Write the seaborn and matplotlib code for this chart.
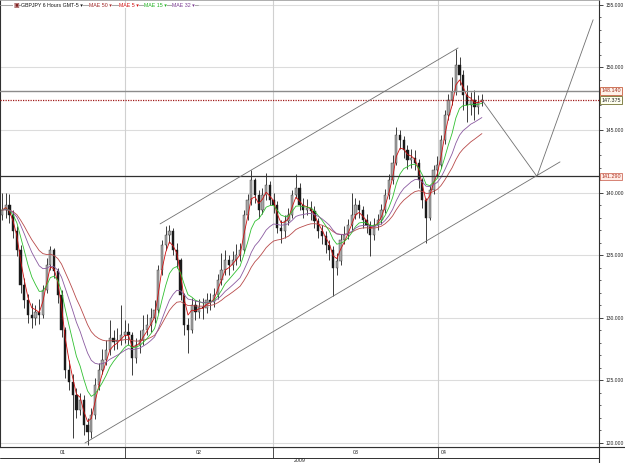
import matplotlib
matplotlib.use('Agg')

import numpy as np
import pandas as pd
import seaborn as sns
import matplotlib.pyplot as plt
from matplotlib.ticker import MultipleLocator, FormatStrFormatter
from matplotlib.transforms import blended_transform_factory

# GBPJPY, Jan - Apr 2009 (one candle here stands for two 6h bars)
first_open = 138.2
closes = [138.6, 139.0, 138.2, 136.9, 135.4, 132.6, 131.4, 130.2, 130.0, 130.5,
          130.2, 132.2, 134.2, 135.4, 133.7, 131.8, 129.0, 125.8, 124.9, 123.8,
          122.6, 123.4, 121.4, 120.9, 122.2, 124.6, 125.8, 126.6, 127.4, 128.4,
          128.1, 128.2, 128.6, 128.9, 128.6, 126.8, 127.8, 128.2, 129.0, 129.4,
          130.0, 130.6, 133.8, 135.8, 136.6, 136.9, 135.4, 134.6, 131.8, 129.4,
          129.0, 131.0, 130.5, 130.9, 130.8, 131.4, 131.3, 131.8, 133.0, 133.8,
          134.6, 134.2, 134.6, 135.0, 135.4, 138.2, 139.4, 141.0, 139.8, 138.6,
          139.8, 140.6, 139.4, 139.0, 137.2, 136.9, 137.7, 138.2, 139.8, 140.4,
          139.0, 138.6, 138.8, 138.5, 137.7, 136.9, 136.5, 135.8, 135.4, 134.0,
          134.5, 136.2, 136.6, 137.4, 138.2, 139.0, 138.6, 137.8, 137.4, 136.6,
          137.4, 137.8, 138.6, 139.8, 141.0, 142.4, 144.6, 144.2, 143.4, 142.6,
          142.8, 142.4, 141.0, 139.4, 138.0, 140.2, 141.8, 142.2, 144.2, 146.2,
          147.4, 148.0, 150.2, 149.4, 147.8, 147.0, 147.4, 146.8, 147.2, 147.4]
highs = [140.0, 140.0, 139.9, 138.6, 137.3, 135.8, 133.2, 131.9, 131.2, 131.0,
         131.5, 132.6, 134.8, 135.7, 135.6, 134.0, 132.2, 129.3, 126.6, 125.5,
         124.4, 124.0, 123.8, 122.0, 122.8, 125.2, 126.4, 127.5, 128.2, 129.8,
         129.0, 129.2, 131.0, 129.8, 129.6, 128.9, 128.4, 129.0, 130.2, 130.3,
         130.8, 131.4, 134.2, 136.2, 137.3, 137.4, 137.2, 136.0, 134.8, 132.0,
         130.0, 131.6, 131.4, 131.5, 131.6, 132.0, 132.0, 132.4, 133.5, 135.2,
         135.4, 135.0, 135.3, 135.9, 136.0, 138.6, 139.9, 141.8, 141.2, 140.2,
         140.4, 141.6, 140.9, 140.0, 139.3, 137.8, 138.2, 138.8, 140.2, 141.5,
         140.8, 139.6, 139.5, 139.3, 138.9, 138.0, 137.4, 136.9, 136.2, 135.7,
         135.2, 136.7, 137.3, 137.9, 140.0, 139.6, 139.4, 138.9, 138.3, 137.7,
         138.0, 138.3, 139.1, 140.3, 141.5, 143.0, 145.2, 145.0, 144.5, 143.8,
         143.5, 143.4, 142.7, 141.2, 139.6, 140.6, 142.2, 142.9, 144.6, 146.6,
         147.9, 149.2, 151.5, 150.8, 149.8, 148.6, 148.0, 148.2, 147.8, 147.9]
lows = [137.8, 138.0, 137.6, 136.4, 134.9, 132.0, 130.8, 129.6, 129.2, 129.4,
        129.5, 130.0, 132.0, 133.8, 133.2, 131.2, 128.5, 125.2, 124.2, 120.4,
        122.0, 122.2, 120.6, 119.8, 120.4, 121.9, 124.2, 125.5, 126.2, 127.0,
        127.4, 127.5, 127.8, 128.0, 127.8, 125.4, 126.4, 127.2, 127.8, 128.6,
        128.9, 129.6, 130.4, 133.4, 135.4, 136.0, 135.0, 134.0, 131.4, 128.6,
        127.2, 128.8, 129.8, 130.0, 129.9, 130.4, 130.6, 130.9, 131.5, 132.6,
        133.4, 133.4, 133.8, 134.2, 134.5, 135.2, 137.8, 139.0, 139.2, 138.0,
        138.3, 139.4, 139.0, 138.4, 136.8, 136.0, 136.4, 137.4, 138.0, 139.6,
        138.6, 138.0, 138.2, 137.8, 137.2, 136.4, 135.9, 135.2, 134.6, 131.7,
        133.4, 134.2, 135.9, 136.3, 137.0, 137.9, 138.0, 137.2, 136.8, 134.9,
        136.2, 137.0, 137.5, 138.4, 139.5, 140.7, 142.2, 143.5, 142.8, 141.9,
        142.0, 141.8, 140.4, 138.8, 136.0, 137.8, 139.9, 141.3, 142.0, 143.9,
        145.8, 147.0, 147.8, 148.6, 146.6, 145.6, 146.2, 145.8, 146.3, 146.9]

ma_names = ['MAE 50', 'MAE 5', 'MAE 15', 'MAE 32']
ma_spans = [25, 3, 8, 16]
ma_colors = ['#b84a4a', '#d01010', '#30c030', '#8a5aa0']

# horizontal levels and hand-drawn lines (bar index, price)
levels = [148.14, 147.375, 141.29]
level_labels = ['148.140', '147.375', '141.290']
upper_x, upper_y = [42.5, 122.6], [137.5, 151.55]
lower_x, lower_y = [22.3, 150.0], [120.0, 142.45]
proj_x, proj_y = [129.0, 143.8, 158.9], [147.4, 141.29, 153.8]

month_starts = [33.1, 72.8, 117.2]
month_labels = ['01', '02', '03', '04']

sns.set_style('white')
plt.rcParams['font.family'] = ['Liberation Sans', 'DejaVu Sans']

df = pd.DataFrame({'close': closes, 'high': highs, 'low': lows})
df['open'] = [first_open] + closes[:-1]
df['idx'] = np.arange(len(df))
for name, span in zip(ma_names, ma_spans):
    df[name] = df['close'].ewm(span=span, adjust=False).mean()

fig = plt.figure(figsize=(6.25, 4.63), dpi=100)
ax = fig.add_axes([0, 16 / 463, 599 / 625, 447 / 463])
xlim = (-0.54, 160.48)
ax.set_xlim(*xlim)
ax.set_ylim(119.68, 155.38)

# grid
for v in range(120, 156, 5):
    ax.axhline(v, color='#dcdcdc', lw=0.8, zorder=0)
for m in month_starts:
    ax.axvline(m, color='#d0d0d0', lw=0.8, zorder=0)

# candles
up = df['close'] >= df['open']
ax.vlines(df['idx'], df['low'], df['high'], color='#1e1e1e', lw=0.6, zorder=2)
body_lo = df[['open', 'close']].min(axis=1)
body_h = (df['close'] - df['open']).abs().clip(lower=0.08)
ax.bar(df['idx'][up], body_h[up], bottom=body_lo[up], width=0.6,
       color='#a8a8a8', edgecolor='#303030', linewidth=0.3, zorder=3)
ax.bar(df['idx'][~up], body_h[~up], bottom=body_lo[~up], width=0.6,
       color='#1a1a1a', edgecolor='#1a1a1a', linewidth=0.3, zorder=3)

# moving averages
for name, col in zip(ma_names, ma_colors):
    sns.lineplot(data=df, x='idx', y=name, color=col, lw=0.6, ax=ax,
                 legend=False, zorder=4)

# levels
ax.axhline(levels[0], color='#8c8c8c', lw=1.0, zorder=5)
ax.axhline(levels[1], color='#a01818', lw=0.9, ls=(0, (1, 1)), zorder=5)
ax.axhline(levels[2], color='#303030', lw=0.9, zorder=5)

# channel + projection
ax.plot(upper_x, upper_y, color='#707070', lw=0.6, zorder=5)
ax.plot(lower_x, lower_y, color='#707070', lw=0.6, zorder=5)
ax.plot(proj_x, proj_y, color='#707070', lw=0.6, zorder=5)

# y axis on the right
ax.yaxis.tick_right()
ax.yaxis.set_major_locator(MultipleLocator(5))
ax.yaxis.set_minor_locator(MultipleLocator(1))
ax.yaxis.set_major_formatter(FormatStrFormatter('%.3f'))
ax.tick_params(axis='y', which='major', direction='out', length=3, width=0.6,
               labelsize=3.6, pad=1.5, colors='#222222')
ax.tick_params(axis='y', which='minor', direction='out', length=1.5, width=0.5)
ax.set_xticks([])
ax.set_xlabel('')
ax.set_ylabel('')
for s in ['left', 'right', 'bottom']:
    ax.spines[s].set_color('#303030')
    ax.spines[s].set_linewidth(0.8)
ax.spines['top'].set_color('#a0a0a0')
ax.spines['top'].set_linewidth(0.6)

# price tags on the right
trans = blended_transform_factory(ax.transAxes, ax.transData)
tag_style = [('#a03020', '#c86040', '#fff2ea'),
             ('#202020', '#707030', '#fffff0'),
             ('#b03020', '#d07060', '#ffece6')]
for lv, lab, (tc, ec, fc) in zip(levels, level_labels, tag_style):
    ax.text(1.004, lv, lab, transform=trans, fontsize=3.9, color=tc,
            va='center', ha='left', clip_on=False, zorder=6,
            bbox=dict(boxstyle='square,pad=0.25', fc=fc, ec=ec, lw=0.6))

# legend strip at top
ax.plot([0.0, 0.33], [0.988, 0.988], transform=ax.transAxes, color='#a0a0a0',
        lw=0.6, zorder=6)
ax.text(0.0217, 0.988, '\u25a3', transform=ax.transAxes, fontsize=4.3,
        color='#802020', va='center', ha='left', zorder=7,
        bbox=dict(fc='white', ec='none', pad=0.2))
strip = [('GBPJPY 6 Hours GMT-5 \u25be', '#111111', 0.035)]
for name, col, x in zip(ma_names, ['#a02828', '#d01010', '#20b020', '#7a3a90'],
                        [0.1486, 0.1987, 0.2404, 0.287]):
    strip.append((name + ' \u25be', col, x))
for txt, col, x in strip:
    ax.text(x, 0.988, txt, transform=ax.transAxes, fontsize=3.8, color=col,
            va='center', ha='left', zorder=7,
            bbox=dict(fc='white', ec='none', pad=0.2))

# bottom time axis (months / year)
axb = fig.add_axes([0, 0, 599 / 625, 16 / 463])
axb.set_xlim(*xlim)
axb.set_ylim(0, 16)
axb.axis('off')
axb.axhline(5.5, color='#303030', lw=0.7)
axb.axhline(15.8, color='#303030', lw=0.8)
axb.axhline(0.2, color='#303030', lw=0.7)
for m in month_starts:
    axb.plot([m, m], [5.5, 15.8], color='#303030', lw=0.6)
bounds = [xlim[0]] + month_starts
for i, lab in enumerate(month_labels[:3]):
    axb.text((bounds[i] + bounds[i + 1]) / 2, 10.5, lab, fontsize=3.8,
             ha='center', va='center', color='#222222')
axb.text(month_starts[-1] + 0.8, 10.5, month_labels[-1], fontsize=3.8,
         ha='left', va='center', color='#222222')
axb.text(np.mean(xlim), 2.5, '2009', fontsize=3.8, ha='center', va='center',
         color='#222222')

fig.add_artist(plt.Line2D([599 / 625, 599 / 625], [0, 16 / 463], color='#303030',
                          lw=0.8))
fig.add_artist(plt.Line2D([599 / 625, 1], [15.8 / 463, 15.8 / 463],
                          color='#303030', lw=0.8))

fig.savefig('out.png', dpi=100)
plt.close(fig)
